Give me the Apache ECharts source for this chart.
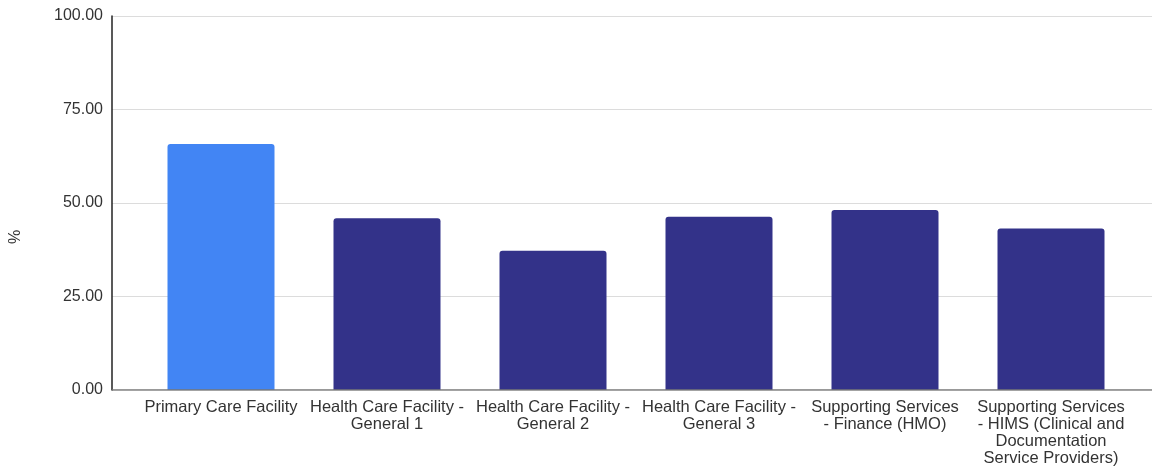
<!DOCTYPE html>
<html>
<head>
<meta charset="utf-8">
<script src="https://cdn.jsdelivr.net/npm/echarts@6/dist/echarts.min.js"></script>
<style>
html, body { margin: 0; padding: 0; background: #fff; }
#chart { width: 1153px; height: 471px; }
</style>
</head>
<body>
<div id="chart"></div>
<script>
var categories = [
    'Primary Care Facility',
    'Health Care Facility - General 1',
    'Health Care Facility - General 2',
    'Health Care Facility - General 3',
    'Supporting Services - Finance (HMO)',
    'Supporting Services - HIMS (Clinical and Documentation Service Providers)'
];
var tickLabels = [
    'Primary Care Facility',
    'Health Care Facility -\nGeneral 1',
    'Health Care Facility -\nGeneral 2',
    'Health Care Facility -\nGeneral 3',
    'Supporting Services\n- Finance (HMO)',
    'Supporting Services\n- HIMS (Clinical and\nDocumentation\nService Providers)'
];
var values = [65.8, 45.9, 37.2, 46.3, 48.1, 43.2];
var barColors = ['#4285f4', '#333289', '#333289', '#333289', '#333289', '#333289'];

var myChart = echarts.init(document.getElementById('chart'));

var option = {
    animation: false,
    textStyle: { fontFamily: 'Liberation Sans, Arial, sans-serif' },
    grid: [
        { left: 110, right: 1, top: 16, bottom: 81 },
        { left: 138, right: 19, top: 16, bottom: 81 }
    ],
    xAxis: [
        {
            gridIndex: 0, type: 'value', min: 0, max: 1,
            axisLine: { show: false }, axisTick: { show: false },
            axisLabel: { show: false }, splitLine: { show: false }
        },
        {
            gridIndex: 1, type: 'category', data: categories,
            axisLine: { show: false },
            axisTick: { show: false },
            axisLabel: {
                interval: 0,
                margin: 9,
                color: '#333',
                fontSize: 16.5,
                lineHeight: 17,
                formatter: function (v, i) { return tickLabels[i]; }
            }
        }
    ],
    yAxis: [
        {
            gridIndex: 0, type: 'value', min: 0, max: 100, interval: 25,
            name: '%', nameLocation: 'middle', nameGap: 88,
            nameTextStyle: { color: '#333', fontSize: 16, padding: [0, 68, 0, 0] },
            axisLine: { show: true, lineStyle: { color: '#222', width: 1.5 } },
            axisTick: { show: false },
            axisLabel: {
                color: '#333', fontSize: 16, margin: 9,
                formatter: function (v) { return v.toFixed(2); }
            },
            splitLine: { lineStyle: { color: '#dcdcdc' } }
        },
        {
            gridIndex: 1, type: 'value', min: 0, max: 100, interval: 25,
            axisLine: { show: false }, axisTick: { show: false },
            axisLabel: { show: false }, splitLine: { show: false }
        }
    ],
    series: [
        {
            type: 'line',
            xAxisIndex: 0, yAxisIndex: 0,
            data: [[0, 0], [1, 0]],
            symbol: 'none', silent: true,
            lineStyle: { color: '#777', width: 1.5 },
            z: 5
        },
        {
            type: 'bar',
            xAxisIndex: 1, yAxisIndex: 1,
            barWidth: 107,
            data: values.map(function (v, i) {
                return { value: v, itemStyle: { color: barColors[i] } };
            }),
            itemStyle: { borderRadius: [3, 3, 0, 0] },
            z: 2
        }
    ]
};

myChart.setOption(option);
</script>
</body>
</html>
